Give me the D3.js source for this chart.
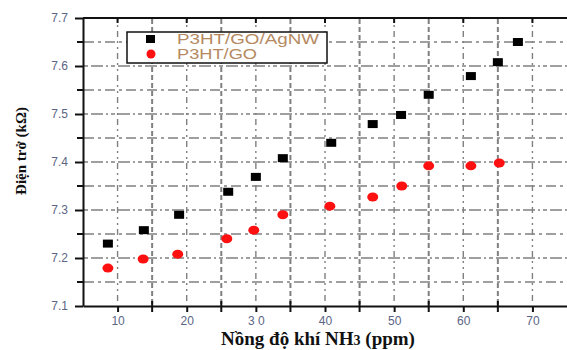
<!DOCTYPE html>
<html>
<head>
<meta charset="utf-8">
<script src="https://cdn.jsdelivr.net/npm/d3@7"></script>
<style>
  body { margin: 0; background: #fff; }
</style>
</head>
<body>
<div id="chart"></div>
<script>
// data
var agnwX = [8.6, 13.8, 18.9, 26.0, 30.0, 33.9, 40.9, 46.9, 51.0, 55.0, 61.1, 65.0, 67.9];
var agnwY = [7.23, 7.258, 7.29, 7.338, 7.369, 7.408, 7.44, 7.479, 7.498, 7.54, 7.579, 7.608, 7.65];
var goX = [8.6, 13.7, 18.7, 25.8, 29.7, 33.9, 40.7, 46.9, 51.1, 55.0, 61.1, 65.2];
var goY = [7.179, 7.198, 7.208, 7.24, 7.258, 7.29, 7.308, 7.327, 7.35, 7.392, 7.392, 7.398];
var xTicks = [10, 20, 30, 40, 50, 60, 70];
var xTickLabels = ["10", "20", "3 0", "40", "50", "60", "70"];
var yTicks = [7.1, 7.2, 7.3, 7.4, 7.5, 7.6, 7.7];
var seriesNames = ["P3HT/GO/AgNW", "P3HT/GO"];

var chartW = 567, chartH = 350;
var pLeft = 83, pRight = 567, pTop = 18, pBottom = 306;

var svg = d3.select("#chart")
    .append("svg")
    .attr("width", chartW)
    .attr("height", chartH);

var xs = d3.scaleLinear().domain([5, 75]).range([pLeft, pRight]);
var ys = d3.scaleLinear().domain([7.1, 7.7]).range([pBottom, pTop]);

var tickColor = "#5b6584";
var gridColor = "#808080";

// grid, every 5 on x and 0.05 on y (under everything)
var gridX = d3.range(10, 75, 5);
var gridY = d3.range(7.15, 7.69, 0.05);

var grid = svg.append("g");

grid.selectAll("path.gx")
    .data(gridX)
    .enter()
    .append("path")
    .attr("class", "gx")
    .attr("d", d => "M" + xs(d) + "," + (pTop + 1) + "V" + (pBottom - 1))
    .attr("style", d => "fill:none;stroke:" + gridColor + ";stroke-width:" + (d % 10 == 0 ? 1.4 : 2) +
        ";stroke-dasharray:" + (d % 10 == 0 ? "2 4 2 4 6 4" : "5 3"));

grid.selectAll("path.gy")
    .data(gridY)
    .enter()
    .append("path")
    .attr("class", "gy")
    .attr("d", d => "M" + (pLeft + 1) + "," + ys(d) + "H" + pRight)
    .attr("style", (d, i) => "fill:none;stroke:" + gridColor + ";stroke-width:1.5;stroke-dasharray:" +
        (i % 2 == 0 ? "10 4 3 4" : "4 3 12 3 2 3"));

// axes
var xAxis = d3.axisBottom(xs)
    .tickValues(xTicks)
    .tickFormat((d, i) => xTickLabels[i])
    .tickSize(6)
    .tickSizeOuter(0);

var gx = svg.append("g")
    .attr("transform", "translate(0," + pBottom + ")")
    .call(xAxis);
gx.select(".domain").attr("stroke", "#111").attr("stroke-width", 2);
gx.selectAll(".tick line").attr("stroke", "#111").attr("stroke-width", 2);
gx.selectAll(".tick text")
    .attr("y", 10)
    .attr("dy", "0.71em")
    .attr("font-family", "Arial, 'Liberation Sans', sans-serif")
    .attr("font-size", "12px")
    .attr("fill", tickColor);

var yAxis = d3.axisLeft(ys)
    .tickValues(yTicks)
    .tickFormat(d3.format(".1f"))
    .tickSize(8)
    .tickSizeOuter(0);

var gy = svg.append("g")
    .attr("transform", "translate(" + pLeft + ",0)")
    .call(yAxis);
gy.select(".domain").attr("stroke", "#111").attr("stroke-width", 2);
gy.selectAll(".tick line").attr("stroke", "#111").attr("stroke-width", 2);
gy.selectAll(".tick text")
    .attr("x", -15)
    .attr("font-family", "Arial, 'Liberation Sans', sans-serif")
    .attr("font-size", "12px")
    .attr("fill", tickColor);

// minor bottom ticks
svg.append("g")
    .selectAll("line")
    .data(d3.range(15, 75, 10))
    .enter()
    .append("line")
    .attr("x1", d => xs(d))
    .attr("x2", d => xs(d))
    .attr("y1", pBottom - 5)
    .attr("y2", pBottom + 6)
    .attr("stroke", "#111")
    .attr("stroke-width", 2);

// minor left ticks
svg.append("g")
    .selectAll("line")
    .data(d3.range(7.15, 7.69, 0.1))
    .enter()
    .append("line")
    .attr("x1", pLeft - 6)
    .attr("x2", pLeft)
    .attr("y1", d => ys(d))
    .attr("y2", d => ys(d))
    .attr("stroke", "#111")
    .attr("stroke-width", 2);

// top border with inward ticks
svg.append("line")
    .attr("x1", pLeft).attr("x2", pRight)
    .attr("y1", pTop).attr("y2", pTop)
    .attr("stroke", "#111").attr("stroke-width", 2);

svg.append("g")
    .selectAll("line")
    .data(xTicks)
    .enter()
    .append("line")
    .attr("x1", d => xs(d))
    .attr("x2", d => xs(d))
    .attr("y1", pTop)
    .attr("y2", pTop + 5)
    .attr("stroke", "#111")
    .attr("stroke-width", 2);

// series: black squares
svg.append("g")
    .selectAll("rect")
    .data(agnwX)
    .enter()
    .append("rect")
    .attr("x", d => xs(d) - 5)
    .attr("y", (d, i) => ys(agnwY[i]) - 4)
    .attr("width", 10)
    .attr("height", 8)
    .attr("fill", "#000");

// series: red circles
svg.append("g")
    .selectAll("ellipse")
    .data(goX)
    .enter()
    .append("ellipse")
    .attr("cx", d => xs(d))
    .attr("cy", (d, i) => ys(goY[i]))
    .attr("rx", 5.5)
    .attr("ry", 4.5)
    .attr("fill", "#ff1010");

// legend
var legend = svg.append("g");
legend.append("rect")
    .attr("x", 127)
    .attr("y", 32)
    .attr("width", 200)
    .attr("height", 31)
    .attr("fill", "#fff")
    .attr("stroke", "#111")
    .attr("stroke-width", 1.5);

legend.append("rect")
    .attr("x", 146).attr("y", 35)
    .attr("width", 9).attr("height", 8)
    .attr("fill", "#000");
legend.append("circle")
    .attr("cx", 151).attr("cy", 54)
    .attr("r", 4.5)
    .attr("fill", "#ff1010");

legend.selectAll("text")
    .data(seriesNames)
    .enter()
    .append("text")
    .attr("x", 177)
    .attr("y", (d, i) => 44 + i * 15)
    .attr("textLength", (d, i) => i == 0 ? 142 : 80)
    .attr("lengthAdjust", "spacingAndGlyphs")
    .attr("font-family", "Arial, 'Liberation Sans', sans-serif")
    .attr("font-size", "14px")
    .attr("fill", "#b58a62")
    .text(d => d);

// axis titles
svg.append("text")
    .attr("x", 318)
    .attr("y", 345)
    .attr("text-anchor", "middle")
    .attr("font-family", "'Liberation Serif', 'Times New Roman', serif")
    .attr("font-weight", "bold")
    .attr("font-size", "19px")
    .attr("fill", "#111")
    .html("Nồng độ khí NH<tspan font-size='14px'>3</tspan> (ppm)");

svg.append("text")
    .attr("transform", "translate(26,151) rotate(-90)")
    .attr("text-anchor", "middle")
    .attr("font-family", "'Liberation Serif', 'Times New Roman', serif")
    .attr("font-weight", "bold")
    .attr("font-size", "15px")
    .attr("fill", "#111")
    .text("Điện trở (kΩ)");
</script>
</body>
</html>
